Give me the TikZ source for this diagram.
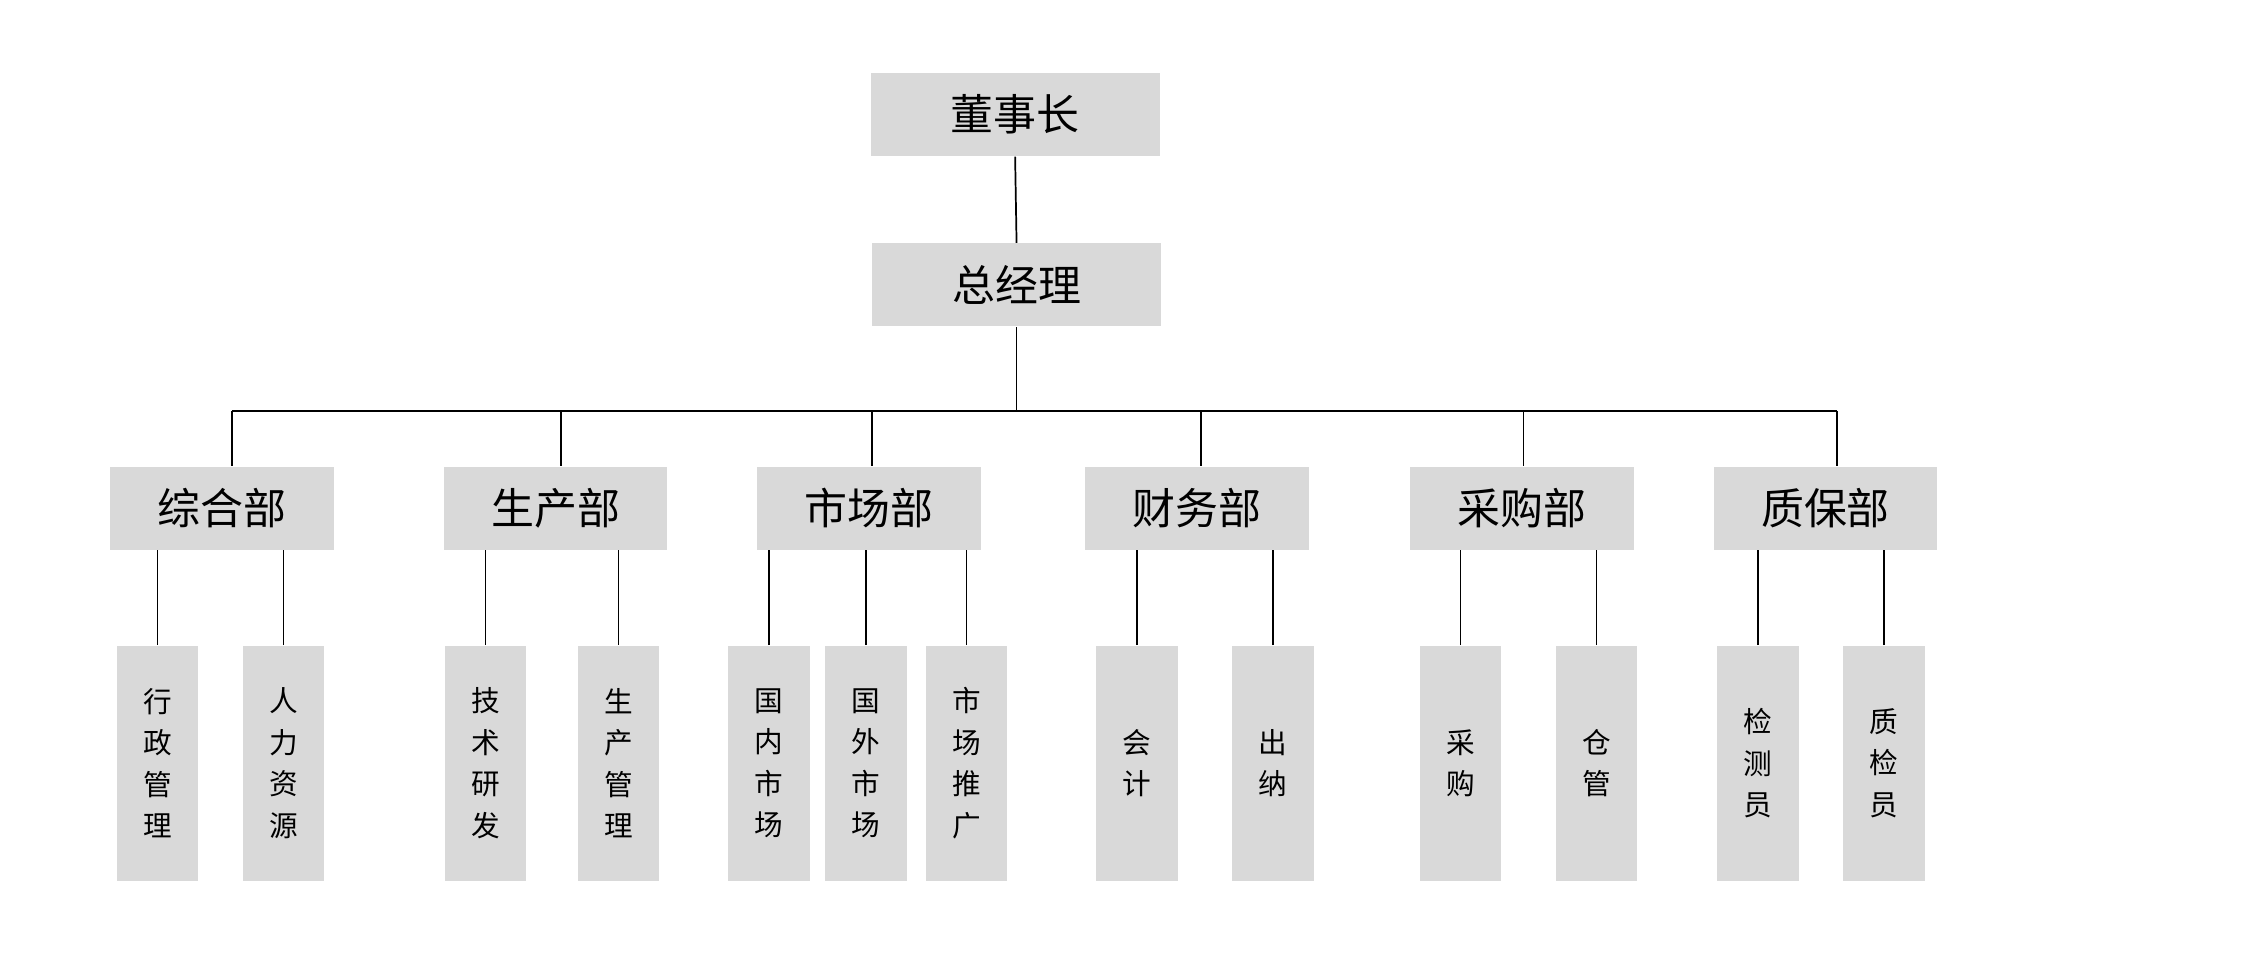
\documentclass[tikz,border=0pt]{standalone}
\usepackage{fontspec}
\setmainfont{Noto Sans CJK SC}
\begin{document}
\begin{tikzpicture}[x=0.5pt,y=-0.5pt,
 box/.style={fill={rgb,255:red,217;green,217;blue,217},inner sep=0,anchor=center},
 top/.style={box,minimum width=101pt,minimum height=29pt,font=\fontsize{15}{15}\selectfont},
 dept/.style={box,minimum width=78pt,minimum height=29pt,font=\fontsize{15}{15}\selectfont},
 leaf/.style={box,minimum width=28.5pt,minimum height=82pt,align=center,font=\fontsize{10}{14.5}\selectfont},
 ln/.style={draw=black,line width=0.6pt}]
\useasboundingbox (0,0) rectangle (1568,667);
\node[top] (a) at (709,80) {董事长};
\node[top] (b) at (710,199) {总经理};
\coordinate (bus) at (710,287);
\coordinate (bl) at (162,287);
\coordinate (br) at (1283,287);
\draw[ln] (a.south) -- (b.north);
\draw[ln] (b.south) -- (bus);
\draw[ln] (bl) -- (br);
\foreach \n/\x/\t/\bx in {d1/155/综合部/162,d2/388/生产部/392,d3/607/市场部/609,d4/836/财务部/839,d5/1063/采购部/1064,d6/1275/质保部/1283}{
 \node[dept] (\n) at (\x,355) {\t};
 \draw[ln] (\bx,287) -- (\n.north -| \bx,0);
}
\foreach \n/\x/\t/\d in {l1/110/行\\政\\管\\理/d1,l2/198/人\\力\\资\\源/d1,l3/339/技\\术\\研\\发/d2,l4/432/生\\产\\管\\理/d2,
 l5/537/国\\内\\市\\场/d3,l6/605/国\\外\\市\\场/d3,l7/675/市\\场\\推\\广/d3,l8/794/会\\计/d4,l9/889/出\\纳/d4,
 l10/1020/采\\购/d5,l11/1115/仓\\管/d5,l12/1228/检\\测\\员/d6,l13/1316/质\\检\\员/d6}{
 \node[leaf] (\n) at (\x,533) {\t};
 \draw[ln] (\n.north) -- (\n.north |- \d.south);
}
\end{tikzpicture}
\end{document}
